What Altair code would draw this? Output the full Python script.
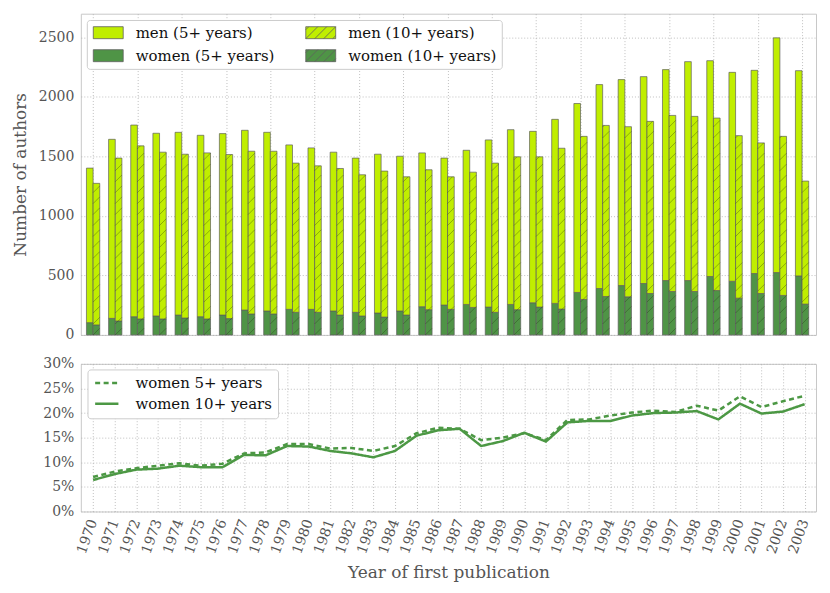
import altair as alt
import pandas as pd

# ---------------- data ----------------
years_bar = list(range(1970, 2003))
men_5 = [1299, 1505, 1611, 1536, 1536, 1525, 1525, 1511, 1502, 1382,
         1357, 1335, 1296, 1335, 1301, 1293, 1235, 1296, 1405, 1469, 1441, 1547,
         1588, 1714, 1731, 1739, 1773, 1840, 1814, 1756, 1708, 1973, 1725]
women_5 = [103, 139, 153, 159, 167, 153, 167, 209, 201, 215,
           215, 201, 190, 184, 201, 237, 251, 256, 234, 256, 270, 265,
           357, 390, 415, 432, 457, 457, 491, 451, 516, 524, 496]
men_10 = [1190, 1369, 1455, 1402, 1377, 1396, 1379, 1368, 1368, 1254,
          1231, 1232, 1187, 1227, 1162, 1176, 1114, 1137, 1254, 1285, 1263, 1352,
          1371, 1438, 1430, 1447, 1480, 1472, 1450, 1366, 1266, 1337, 1034]
women_10 = [84, 117, 134, 134, 142, 134, 137, 176, 176, 190,
            190, 167, 159, 150, 167, 212, 215, 231, 190, 212, 234, 217,
            298, 323, 320, 348, 365, 365, 373, 309, 348, 332, 259]

years_line = list(range(1970, 2004))
pct_women_5 = [7.0, 8.1, 8.8, 9.3, 9.8, 9.3, 9.7, 11.8, 12.0, 13.7, 13.7, 12.8,
               12.9, 12.3, 13.3, 15.9, 17.0, 16.8, 14.5, 15.0, 15.9, 14.5, 18.6,
               18.7, 19.5, 20.1, 20.5, 20.2, 21.5, 20.5, 23.4, 21.2, 22.4, 23.5]
pct_women_10 = [6.4, 7.6, 8.5, 8.7, 9.3, 9.0, 9.0, 11.5, 11.4, 13.3, 13.2, 12.3,
                11.8, 11.0, 12.3, 15.4, 16.5, 16.8, 13.3, 14.3, 16.0, 14.2, 18.1,
                18.4, 18.4, 19.5, 20.0, 20.1, 20.4, 18.7, 21.9, 19.9, 20.3, 21.8]

# legend fills column by column: column 1 = 5+ years, column 2 = 10+ years
bar_series = ["men (5+ years)", "women (5+ years)", "men (10+ years)", "women (10+ years)"]
line_series = ["women 5+ years", "women 10+ years"]

# ---------------- styles ----------------
FONT = "DejaVu Serif"
MEN = "#c0ee00"
WOMEN = "#4f9446"
LINE = "#4c9844"
EDGE = "#5e5e5e"
W = 737
H_TOP = 322
H_BOT = 148
GAP = 13
BAR_W = 0.3
HATCH_STEP = 92
HATCH_RISE = 56

RECT = "M-1,-1L4,-1L4,1L-1,1Z"
HATCH = RECT + "M-1,1L1,-1M0.5,1L2.5,-1M2,1L4,-1M-1,-0.5L-0.5,-1M3.5,1L4,0.5"
LINE_SYM = "M-1,0L3,0"

bars_df = pd.DataFrame({"year": years_bar, "men5": men_5, "women5": women_5,
                        "men10": men_10, "women10": women_10})
lines_df = pd.DataFrame({"year": years_line, "w5": pct_women_5, "w10": pct_women_10})

x_top = alt.Scale(domain=[1969.446, 2002.63], nice=False, zero=False)
y_top = alt.Scale(domain=[0, 2700], nice=False)
fill_scale = alt.Scale(domain=bar_series, range=[MEN, WOMEN, MEN, WOMEN])
shape_scale = alt.Scale(domain=bar_series, range=[RECT, RECT, HATCH, HATCH])
stroke_scale = alt.Scale(domain=bar_series, range=[EDGE, EDGE, EDGE, EDGE])

base = alt.Chart(bars_df)

folded = base.transform_fold(
    ["women5", "men5", "women10", "men10"], as_=["key", "count"]
).transform_calculate(
    group="indexof(datum.key, '10') >= 0 ? '10+' : '5+'",
    sex="indexof(datum.key, 'women') == 0 ? 'women' : 'men'",
).transform_calculate(
    series="datum.sex + ' (' + datum.group + ' years)'",
    order="datum.sex == 'women' ? 0 : 1",
    xs=f"datum.group == '5+' ? datum.year - {BAR_W} : datum.year",
).transform_calculate(
    xe=f"datum.xs + {BAR_W}"
).transform_stack(
    stack="count", groupby=["year", "group"], sort=[alt.SortField("order")], as_=["y0", "y1"]
)

legend_top = alt.Legend(
    title=None, orient="none", legendX=6, legendY=6.3, columns=2, columnPadding=28,
    rowPadding=6.3, labelFont=FONT, labelFontSize=15, labelColor="#111",
    symbolSize=144, labelOffset=29, fillColor="white", strokeColor="#cccccc",
    cornerRadius=3, padding=5, symbolOpacity=1, symbolStrokeWidth=0.8)

bars = folded.mark_bar(strokeWidth=0.7).encode(
    x=alt.X("xs:Q", scale=x_top,
            axis=alt.Axis(values=years_bar, labels=False, ticks=False, domain=False,
                          grid=True, title=None)),
    x2="xe:Q",
    y=alt.Y("y0:Q", scale=y_top,
            axis=alt.Axis(values=[0, 500, 1000, 1500, 2000, 2500], format="d",
                          title="Number of authors", labelPadding=7, titlePadding=9)),
    y2="y1:Q",
    fill=alt.Fill("series:N", scale=fill_scale, legend=legend_top),
    stroke=alt.Stroke("series:N", scale=stroke_scale, legend=legend_top),
)

hatch = base.transform_calculate(
    total="datum.men10 + datum.women10"
).transform_calculate(
    ys=f"sequence(0, datum.total, {HATCH_STEP})"
).transform_flatten(["ys"]).transform_calculate(
    ye=f"min(datum.ys + {HATCH_RISE}, datum.total)"
).transform_calculate(
    xh=f"datum.year + {BAR_W} * (datum.ye - datum.ys) / {HATCH_RISE}"
).mark_rule(color="#1e2a10", strokeWidth=0.6, opacity=0.55).encode(
    x=alt.X("year:Q", scale=x_top),
    x2="xh:Q",
    y=alt.Y("ys:Q", scale=y_top),
    y2="ye:Q",
)

legend_pts = folded.mark_point(filled=True, opacity=0).encode(
    x=alt.X("xs:Q", scale=x_top),
    y=alt.Y("y1:Q", scale=y_top),
    fill=alt.Fill("series:N", scale=fill_scale, legend=legend_top),
    shape=alt.Shape("series:N", scale=shape_scale, legend=legend_top),
    stroke=alt.Stroke("series:N", scale=stroke_scale, legend=legend_top),
)

top = alt.layer(bars, hatch, legend_pts).properties(width=W, height=H_TOP)

x_bot = alt.Scale(domain=[1969.43, 2003.53], nice=False, zero=False)

lines = alt.Chart(lines_df).transform_fold(
    ["w5", "w10"], as_=["key", "pct"]
).transform_calculate(
    series="datum.key == 'w5' ? 'women 5+ years' : 'women 10+ years'"
).mark_line(color=LINE, strokeWidth=2.5).encode(
    x=alt.X("year:Q", scale=x_bot,
            axis=alt.Axis(values=years_line, format="d", labelAngle=290, labelAlign="right",
                          labelBaseline="middle", labelPadding=8, labelOverlap=False,
                          grid=True, title="Year of first publication", titlePadding=9)),
    y=alt.Y("pct:Q", scale=alt.Scale(domain=[0, 30], nice=False),
            axis=alt.Axis(values=[0, 5, 10, 15, 20, 25, 30], labelExpr="datum.value + '%'",
                          title=None, labelPadding=7)),
    strokeDash=alt.StrokeDash(
        "series:N",
        scale=alt.Scale(domain=line_series, range=[[5, 3.5], [1, 0]]),
        legend=alt.Legend(title=None, orient="none", legendX=6.7, legendY=356.6,
                          labelFont=FONT, labelFontSize=15, labelColor="#111",
                          symbolType=LINE_SYM, symbolSize=136, symbolStrokeColor=LINE,
                          symbolStrokeWidth=2.5, labelOffset=27, rowPadding=5,
                          fillColor="white", strokeColor="#cccccc", cornerRadius=3,
                          padding=6),
    ),
).properties(width=W, height=H_BOT)

chart = alt.vconcat(top, lines, spacing=GAP).properties(
    padding={"left": 2, "top": 4, "right": 5, "bottom": 5}
).configure_view(
    stroke="#c8c8c8", strokeWidth=1
).configure_axis(
    gridColor="#b0b0b0", gridDash=[1, 2], gridWidth=0.8,
    labelFont=FONT, labelFontSize=14, labelColor="#555555",
    titleFont=FONT, titleFontSize=17, titleColor="#555555", titleFontWeight="normal",
    domain=False, ticks=False,
)

chart.save("out.html", embed_options={"renderer": "svg", "actions": False})
